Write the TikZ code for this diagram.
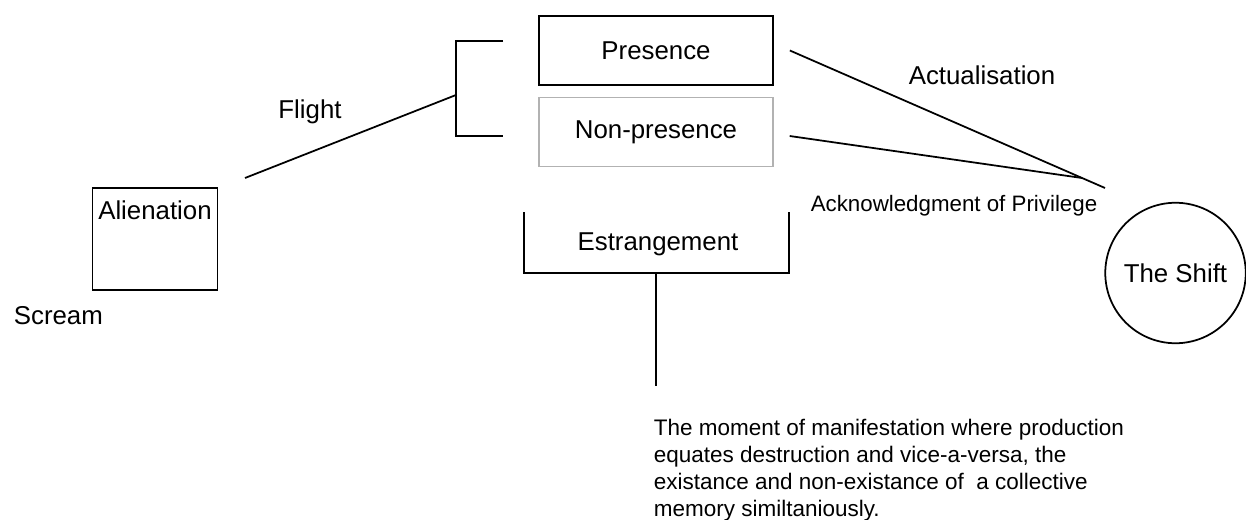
\documentclass[tikz,border=0pt]{standalone}
\usepackage{fontspec}
\setmainfont{Liberation Sans}
\usepackage{tikz}

\begin{document}
\begin{tikzpicture}[x=0.02cm, y=-0.02cm, line width=1pt]
	\tikzstyle{every node} = [font=\fontsize{14.7}{17}\selectfont]
	\tikzstyle{box} = [draw, minimum width=4.68cm, minimum height=1.37cm, inner sep=0pt]
	\tikzstyle{small} = [font=\fontsize{12.7}{15}\selectfont]
	\useasboundingbox (0,0) rectangle (1246,520);
	\node[box] (presence) at (656,50.5) {Presence};
	\node[box, draw=black!30, line width=0.8pt] (nonpresence) at (656,132) {Non-presence};
	\node[draw, anchor=base, inner sep=0pt, minimum width=2.5cm, text height=0.62cm, text depth=1.42cm] (alienation) at (155,219) {Alienation};
	\node[anchor=base west, inner sep=0pt] (scream) at (13,324) {Scream};
	\node[anchor=base, inner sep=0pt] (flight) at (310,119) {Flight};
	\node[anchor=base, inner sep=0pt] (actualisation) at (982,85) {Actualisation};
	\node[small, anchor=base, inner sep=0pt] (privilege) at (954,212) {Acknowledgment of Privilege};
	\node[circle, draw, minimum size=2.81cm, inner sep=0pt] (shift) at (1175.5,273) {The Shift};
	\node[anchor=base, inner sep=0pt] (estrangement) at (658,250) {Estrangement};
	\node[anchor=north west, inner sep=0pt, align=left, font=\fontsize{12.8}{15.3}\selectfont] (moment) at (653,418.5) {The moment of manifestation where production\\equates destruction and vice-a-versa, the\\existance and non-existance of\ \ a collective\\memory similtaniously.};
	\coordinate (flightstart) at (245,178);
	\coordinate (fork) at (456,95);
	\coordinate (meet) at (1105,188);
	\coordinate (cross) at (1082,178);
	\coordinate (low) at (656,386);
	\draw (503,41) -- (456,41) -- (456,136) -- (503,136);
	\draw (flightstart) -- (fork);
	\draw ([xshift=0.32cm]presence.east) -- (meet);
	\draw ([shift={(0.32cm,-0.08cm)}]nonpresence.east) -- (cross);
	\draw (524,212) -- (524,273) -- (789,273) -- (789,212);
	\draw (656,273) -- (low);
\end{tikzpicture}
\end{document}
